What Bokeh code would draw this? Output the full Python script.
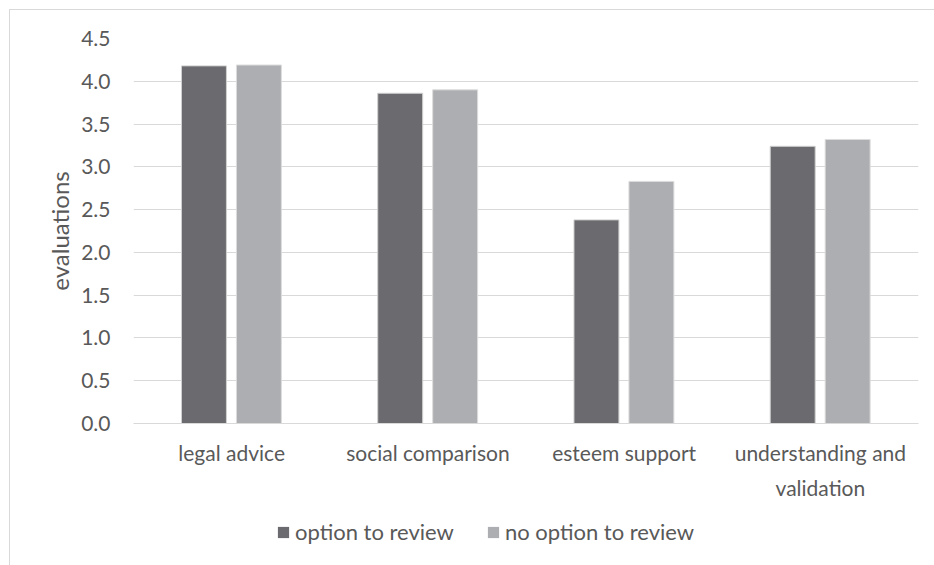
from bokeh.plotting import figure
from bokeh.layouts import column
from bokeh.models import FactorRange, FixedTicker, PrintfTickFormatter, Legend, LegendItem, ColumnDataSource, Range1d
from bokeh.transform import dodge
from bokeh.embed import file_html
from bokeh.resources import INLINE

categories = ["legal advice", "social comparison", "esteem support", "understanding and\nvalidation"]
option_to_review = [4.18, 3.86, 2.38, 3.24]
no_option_to_review = [4.19, 3.90, 2.83, 3.32]
series_names = ["option to review", "no option to review"]
y_ticks = [0.0, 0.5, 1.0, 1.5, 2.0, 2.5, 3.0, 3.5, 4.0, 4.5]

FONT = "Lato"
TEXT = "#595959"
GRID = "#d9d9d9"
DARK = "#6b6b6f"
LIGHT = "#adaeb1"

src = ColumnDataSource(dict(cat=categories, opt=option_to_review, noopt=no_option_to_review))

p = figure(width=924, height=500, x_range=FactorRange(*categories), y_range=(0, 4.5),
           output_backend="svg", toolbar_location=None,
           min_border_left=123, min_border_right=16, min_border_top=28, min_border_bottom=87)
p.outline_line_color = None
p.background_fill_color = "white"
p.border_fill_color = "white"

r1 = p.vbar(x=dodge("cat", -0.141, range=p.x_range), top="opt", width=0.229, source=src,
            fill_color=DARK, line_color="#d0d0d0", line_width=1)
r2 = p.vbar(x=dodge("cat", 0.139, range=p.x_range), top="noopt", width=0.229, source=src,
            fill_color=LIGHT, line_color="#dcdcdc", line_width=1)

p.xgrid.grid_line_color = None
p.ygrid.grid_line_color = GRID
p.ygrid.grid_line_width = 1
p.yaxis.ticker = FixedTicker(ticks=y_ticks)
p.yaxis.formatter = PrintfTickFormatter(format="%.1f")

for ax in (p.xaxis[0], p.yaxis[0]):
    ax.major_tick_line_color = None
    ax.minor_tick_line_color = None
    ax.major_label_text_font = FONT
    ax.major_label_text_color = TEXT
    ax.major_label_text_font_size = "21px"

p.yaxis.axis_line_color = None
p.yaxis.major_label_standoff = 17
p.yaxis.axis_label = "evaluations"
p.yaxis.axis_label_text_font = FONT
p.yaxis.axis_label_text_font_style = "normal"
p.yaxis.axis_label_text_font_size = "24px"
p.yaxis.axis_label_text_color = TEXT
p.yaxis.axis_label_standoff = 4

p.xaxis.axis_line_color = GRID
p.xaxis.major_label_standoff = 10
p.xaxis.major_label_text_line_height = 1.4

# legend strip below the chart (frame aligned with the chart's frame)
p2 = figure(width=924, height=55, output_backend="svg", toolbar_location=None,
            x_range=Range1d(0, 1), y_range=Range1d(0, 1),
            x_axis_location=None, y_axis_location=None,
            min_border_left=123, min_border_right=16, min_border_top=0, min_border_bottom=0)
p2.center = []
p2.outline_line_color = None
p2.background_fill_color = "white"
p2.border_fill_color = "white"
# zero-size swatch renderers: they only supply the legend's square colours
l1 = p2.vbar(x=[0.5], top=[0.5], bottom=[0.5], width=0, fill_color=DARK, line_color=None)
l2 = p2.vbar(x=[0.5], top=[0.5], bottom=[0.5], width=0, fill_color=LIGHT, line_color=None)

legend = Legend(items=[LegendItem(label=series_names[0], renderers=[l1]),
                       LegendItem(label=series_names[1], renderers=[l2])],
                orientation="horizontal", location=(143, 20),
                label_text_font=FONT, label_text_font_size="22px", label_text_color=TEXT,
                glyph_width=14, glyph_height=14, label_standoff=5, spacing=32,
                padding=0, margin=0, border_line_color=None, background_fill_alpha=0)
p2.add_layout(legend, "center")

layout = column(p, p2, spacing=0)
layout.margin = (10, 0, 0, 10)
layout.styles = {"outline": "1px solid #d9d9d9"}

open("out.html", "w").write(file_html(layout, INLINE))
